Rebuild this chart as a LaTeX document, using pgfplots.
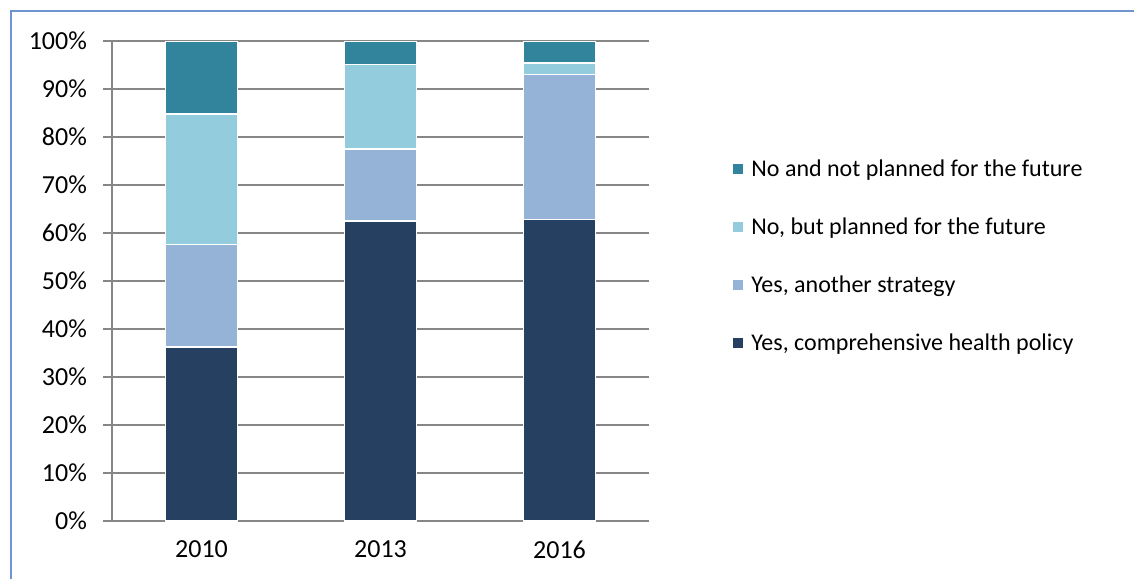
\documentclass[border=0pt]{standalone}
\usepackage{fontspec}
\setmainfont{Carlito}
\usepackage{pgfplots}
\pgfplotsset{compat=1.18}
\definecolor{policy}{HTML}{264061}
\definecolor{another}{HTML}{95B3D7}
\definecolor{planned}{HTML}{93CDDD}
\definecolor{notplanned}{HTML}{31849B}
\definecolor{gridgray}{HTML}{868686}
\definecolor{framecol}{HTML}{6E95CF}
\begin{document}
\begin{tikzpicture}
\fill[white] (0,0) rectangle (567pt,-289.5pt);
\draw[framecol, line width=0.9pt] (5.5pt,-289.5pt) -- (5.5pt,-5.5pt) -- (567pt,-5.5pt);
\begin{axis}[
    at={(56pt,-260.5pt)}, anchor=south west,
    scale only axis, width=268.5pt, height=240pt,
    ybar stacked, bar width=36pt,
    xmin=-0.5, xmax=2.5, ymin=0, ymax=100,
    axis x line*=bottom, axis y line*=left,
    axis line style={gridgray, line width=0.6pt},
    tick align=outside, major tick length=4.5pt,
    xtick={0,1,2}, xticklabels={2010,2013,2016},
    xtick style={draw=none},
    extra x ticks={-0.5,0.5,1.5,2.5}, extra x tick labels={},
    extra x tick style={grid=none, tick style={draw=gridgray, line width=0.6pt}},
    ytick={0,10,...,100},
    yticklabels={0\%,10\%,20\%,30\%,40\%,50\%,60\%,70\%,80\%,90\%,100\%},
    ytick style={draw=gridgray, line width=0.6pt},
    ymajorgrids, major grid style={gridgray, line width=0.6pt},
    tick label style={font=\fontsize{13}{15}\selectfont, black},
    yticklabel style={xshift=-4.5pt},
    xticklabel style={yshift=-2pt},
    every axis plot/.append style={draw=white, line width=0.8pt},
    legend cell align=left,
    reverse legend,
    legend style={at={(1.155,0.761)}, anchor=north west, draw=none, fill=none,
        font=\fontsize{12}{14}\selectfont, row sep=15.2pt, inner sep=0pt},
    legend image code/.code={\fill[#1, draw=none] (0pt,-2pt) rectangle (5pt,3pt);
        \path (7pt,0pt);},
]
\addplot[fill=policy] coordinates {(0,36.3) (1,62.5) (2,62.8)};
\addplot[fill=another] coordinates {(0,21.3) (1,15.0) (2,30.2)};
\addplot[fill=planned] coordinates {(0,27.2) (1,17.6) (2,2.4)};
\addplot[fill=notplanned] coordinates {(0,15.2) (1,4.9) (2,4.6)};
\legend{{Yes, comprehensive health policy}, {Yes, another strategy}, {No, but planned for the future}, {No and not planned for the future}}
\end{axis}
\pgfresetboundingbox
\useasboundingbox (0,0) rectangle (567pt,-289.5pt);
\end{tikzpicture}
\end{document}
